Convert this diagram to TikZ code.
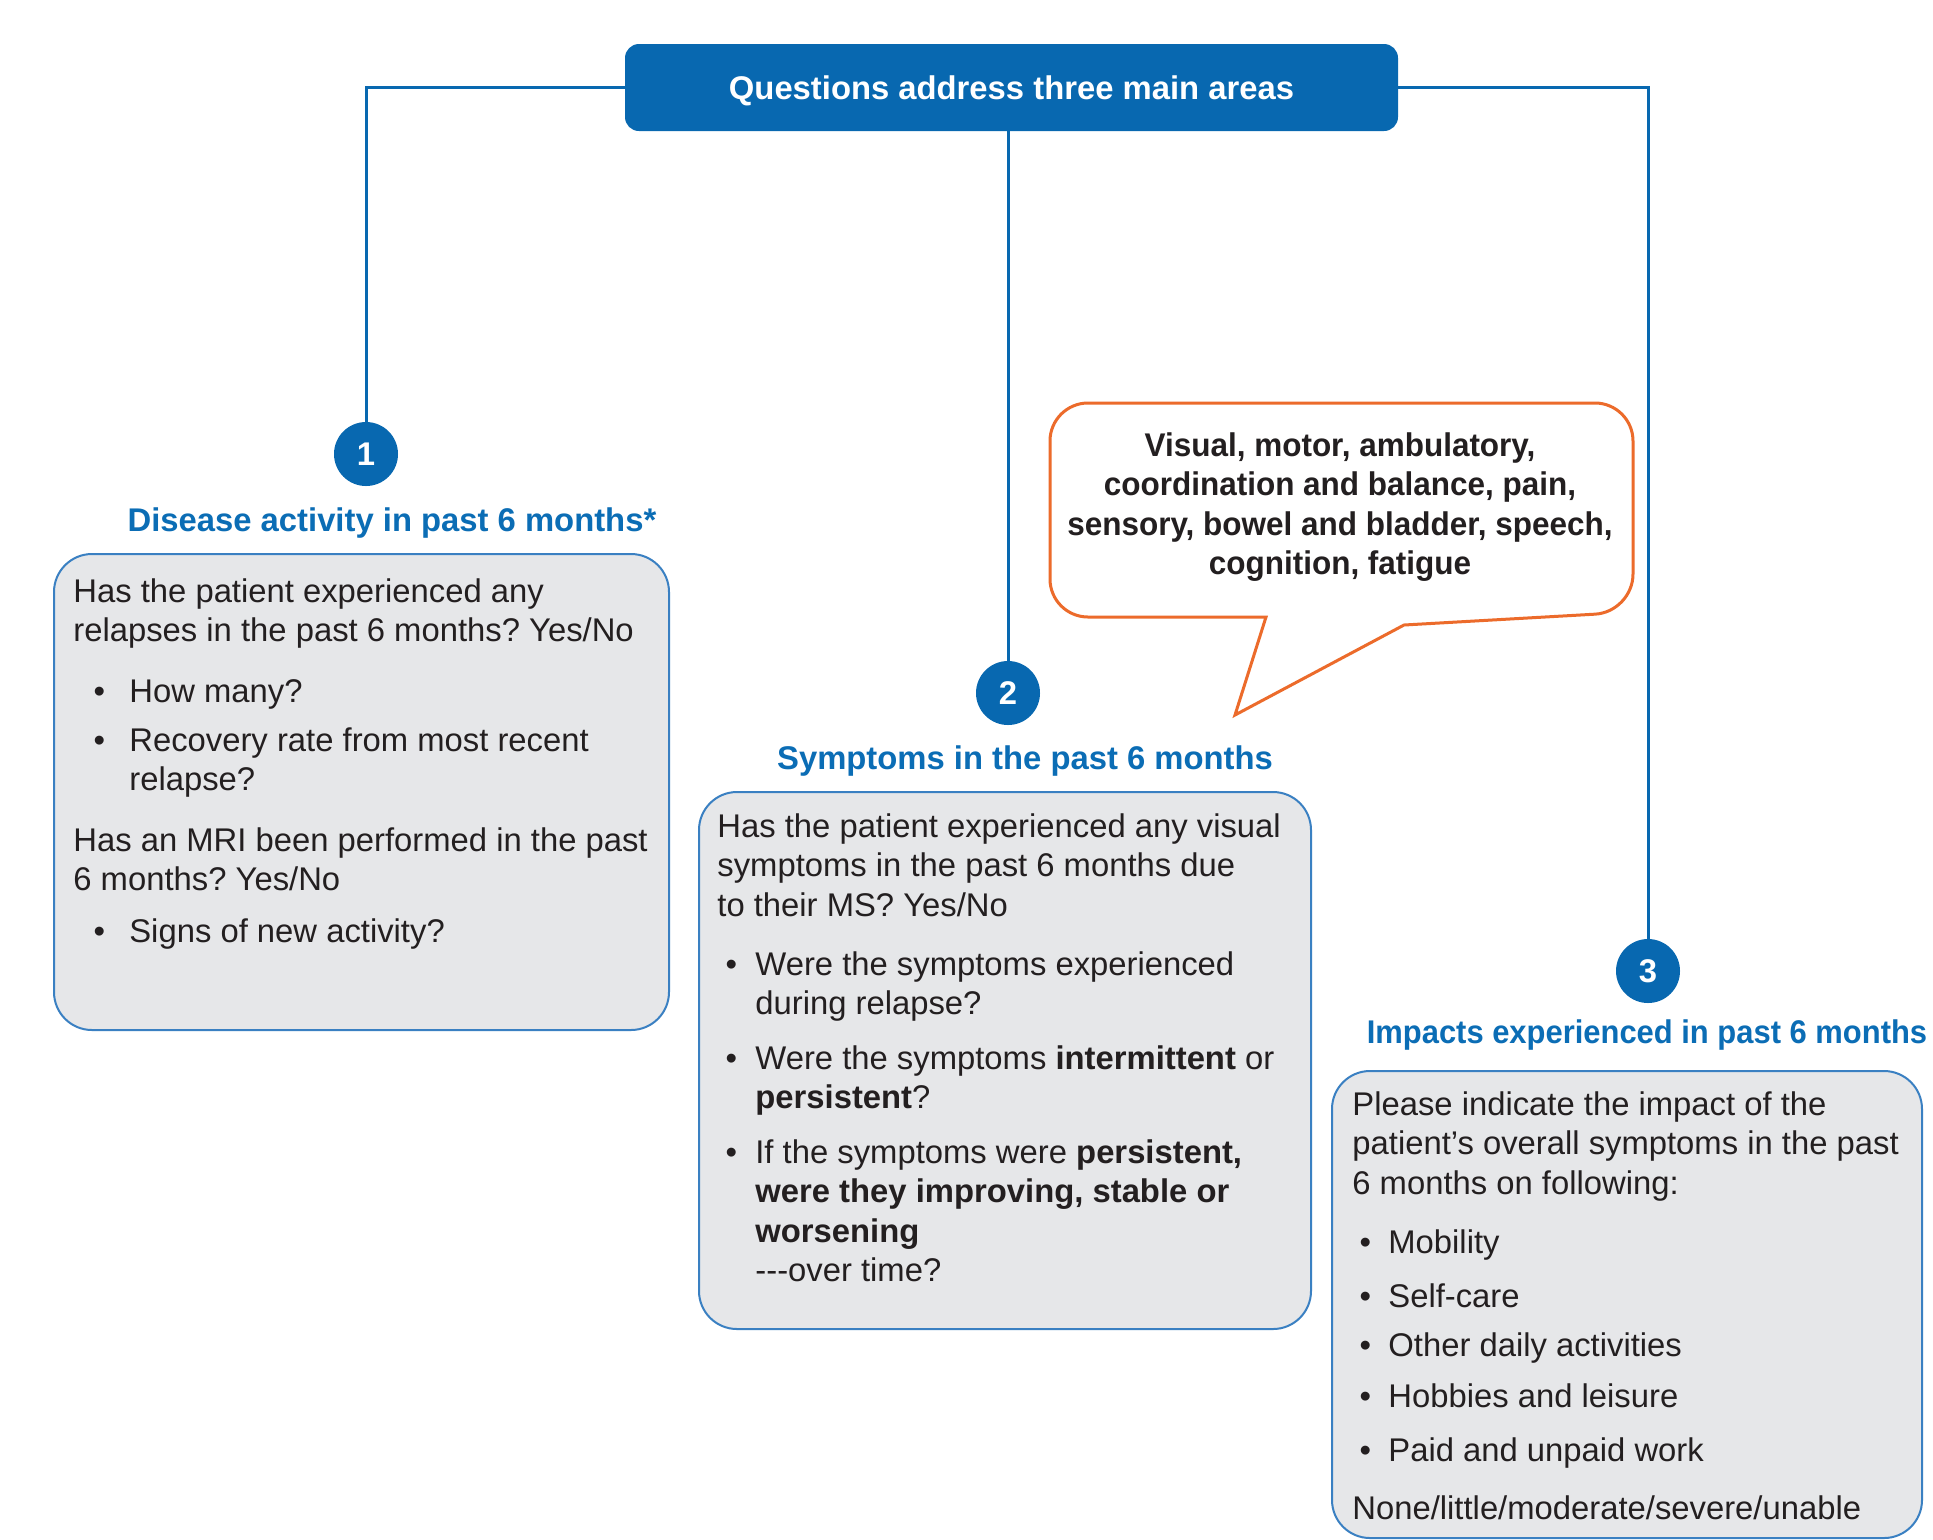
\documentclass[tikz,border=0pt]{standalone}
\usepackage{fontspec}
\setmainfont{Liberation Sans}
\usepackage{graphicx}

\definecolor{brandblue}{HTML}{0868B0}
\definecolor{headblue}{HTML}{0B6DB5}
\definecolor{edgeblue}{HTML}{3A80C2}
\definecolor{panel}{HTML}{E6E7E9}
\definecolor{calloutorange}{HTML}{EC6B2B}
\definecolor{ink}{HTML}{231F20}

\frenchspacing
\newcommand\bodysize{\fontsize{16.4pt}{19.75pt}\selectfont}
\newcommand\pbx[1]{\parbox[t]{300pt}{\raggedright\leavevmode #1}}
\newcommand\bul[1]{\llap{\textbullet\hspace{#1}}}

\begin{document}
\begin{tikzpicture}[x=0.5pt,y=-0.5pt,
  panelbox/.style={draw=edgeblue, line width=1pt, fill=panel, rounded corners=19pt,
    inner sep=0, anchor=north west},
  link/.style={draw=brandblue, line width=1.5pt},
  badge/.style={circle, fill=brandblue, text=white, font=\bfseries\bodysize,
    minimum size=32pt, inner sep=0},
  heading/.style={anchor=base, inner sep=0, text=headblue, font=\bfseries\bodysize},
  para/.style={anchor=base west, inner sep=0, text=ink, font=\bodysize},
  bubbletext/.style={anchor=base, inner sep=0, text=ink, font=\bfseries\bodysize},
]
\useasboundingbox[fill=white] (0,0) rectangle (1933,1539);

% title bar
\node[fill=brandblue, rounded corners=7pt, minimum width=386.5pt, minimum height=43.5pt,
      inner sep=0, text height=12pt, text depth=0pt, text=white, font=\bfseries\bodysize]
      (top) at (1011.5,87.5) {Questions address three main areas};

% numbered badges
\node[badge] (c1) at (366,454) {1};
\node[badge] (c2) at (1008,693) {2};
\node[badge] (c3) at (1648,971) {3};

% connectors
\draw[link] (top.west) -| (c1.north);
\draw[link] (top.south -| c2) -- (c2.north);
\draw[link] (top.east) -| (c3.north);

% headings
\node[heading] (h1) at (392,531) {Disease activity in past 6 months*};
\node[heading] (h2) at (1025,769) {Symptoms in the past 6 months};
\node[heading] (h3) at (1647,1043) {\scalebox{0.943}[1]{Impacts experienced in past 6 months}};

% panels
\node[panelbox, minimum width=307.5pt, minimum height=238pt] (p1) at (53,553) {};
\node[panelbox, minimum width=306pt, minimum height=268.5pt] (p2) at (698,791) {};
\node[panelbox, minimum width=295pt, minimum height=233.5pt] (p3) at (1331,1070) {};

% panel 1: disease activity
\node[para] (t1a) at (73,602) {\pbx{Has the patient experienced any\\relapses in the past 6 months? Yes/No}};
\node[para] (t1b) at (129,702) {\pbx{\bul{12.2pt}How many?}};
\node[para] (t1c) at (129,751) {\pbx{\bul{12.2pt}Recovery rate from most recent\\relapse?}};
\node[para] (t1d) at (73,851) {\pbx{Has an MRI been performed in the past\\6 months? Yes/No}};
\node[para] (t1e) at (129,942) {\pbx{\bul{12.2pt}Signs of new activity?}};

% panel 2: symptoms
\node[para] (t2a) at (717,837) {\pbx{Has the patient experienced any visual\\symptoms in the past 6 months due\\to their MS? Yes/No}};
\node[para] (t2b) at (755,975) {\pbx{\bul{9.2pt}Were the symptoms experienced\\during relapse?}};
\node[para] (t2c) at (755,1069) {\pbx{\bul{9.2pt}Were the symptoms \textbf{intermittent} or\\\textbf{persistent}?}};
\node[para] (t2d) at (755,1163) {\pbx{\bul{9.2pt}If the symptoms were \textbf{persistent,}\\\textbf{were they improving, stable or}\\\textbf{worsening}\\-{}-{}-over time?}};

% panel 3: impacts
\node[para] (t3a) at (1352,1115) {\pbx{Please indicate the impact of the\\patient’s overall symptoms in the past\\6 months on following:}};
\node[para] (t3b) at (1388,1253) {\pbx{\bul{8.7pt}Mobility}};
\node[para] (t3c) at (1388,1307) {\pbx{\bul{8.7pt}Self-care}};
\node[para] (t3d) at (1388,1356) {\pbx{\bul{8.7pt}Other daily activities}};
\node[para] (t3e) at (1388,1407) {\pbx{\bul{8.7pt}Hobbies and leisure}};
\node[para] (t3f) at (1388,1461) {\pbx{\bul{8.7pt}Paid and unpaid work}};
\node[para] (t3g) at (1352,1519) {\pbx{None/little/moderate/severe/unable}};

% speech bubble listing symptom domains
\draw[draw=calloutorange, line width=1.5pt, fill=white]
  (1266,617) [rounded corners=19pt] -- (1050,617) -- (1050,403) -- (1633,403)
  -- (1633,612) [sharp corners] -- (1404,625) -- (1235,715) -- cycle;
\node[bubbletext] (bubble) at (1340,456)
  {\scalebox{0.96}[1]{\parbox[t]{300pt}{\centering Visual, motor, ambulatory,\\coordination and balance, pain,\\sensory, bowel and bladder, speech,\\cognition, fatigue}}};
\end{tikzpicture}
\end{document}
